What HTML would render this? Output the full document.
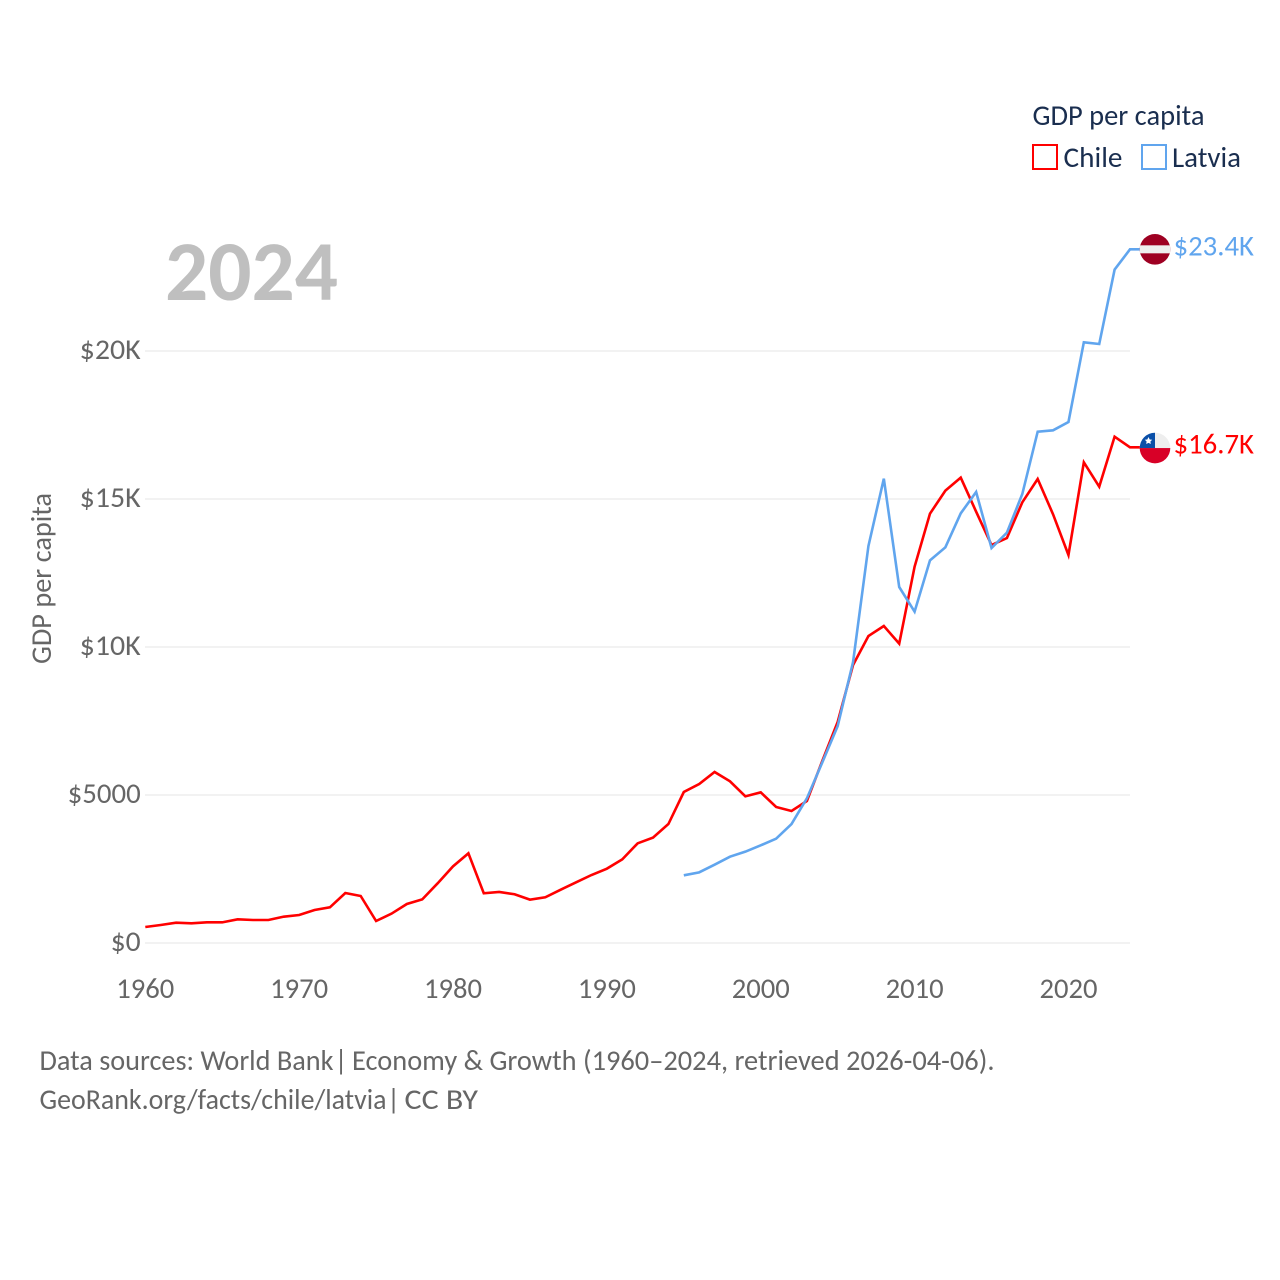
<!DOCTYPE html>
<html lang="en">
<head>
<meta charset="utf-8">
<title>GDP per capita: Chile vs Latvia</title>
<style>
html,body{margin:0;padding:0;background:#fff;width:1280px;height:1280px;overflow:hidden}
svg{display:block}
text{font-family:"Carlito","Liberation Sans",sans-serif}
</style>
</head>
<body>
<svg id="chart" xmlns="http://www.w3.org/2000/svg" width="1280" height="1280" viewBox="0 0 1280 1280">
  <defs>
    <clipPath id="flag-clip"><circle cx="0" cy="0" r="15.3"/></clipPath>
  </defs>
  <rect x="0" y="0" width="1280" height="1280" fill="#fff"/>
  <g id="grid"></g>
  <g id="yticks"></g>
  <g id="xticks"></g>
  <text x="165" y="300" font-size="85" font-weight="700" fill="#bfbfbf" textLength="173" lengthAdjust="spacingAndGlyphs">2024</text>
  <text transform="translate(51,664) rotate(-90)" font-size="28.5" fill="#666" textLength="171" lengthAdjust="spacingAndGlyphs">GDP per capita</text>
  <g id="series"></g>

  <g id="flag-latvia">
    <g clip-path="url(#flag-clip)">
      <rect x="-16" y="-16" width="32" height="32" fill="#9e0022"/>
      <rect x="-16" y="-4" width="32" height="8" fill="#eeeeee"/>
    </g>
  </g>
  <g id="flag-chile">
    <g clip-path="url(#flag-clip)">
      <rect x="-16" y="-16" width="32" height="16" fill="#eeeeee"/>
      <rect x="-16" y="-16" width="16" height="16" fill="#0a4fa8"/>
      <rect x="-16" y="0" width="32" height="16" fill="#d80027"/>
      <polygon points="-6.5,-11 -5.3,-8.6 -2.8,-8.3 -4.6,-6.5 -4.2,-4 -6.5,-5.2 -8.8,-4 -8.4,-6.5 -10.2,-8.3 -7.7,-8.6" fill="#fff"/>
    </g>
  </g>
  <text id="label-latvia" x="1173.5" font-size="28.5" fill="#60a5ee" textLength="80.5" lengthAdjust="spacingAndGlyphs">$23.4K</text>
  <text id="label-chile" x="1173.5" font-size="28.5" fill="#ff0000" textLength="80.5" lengthAdjust="spacingAndGlyphs">$16.7K</text>

  <g>
    <text x="1032.5" y="125.2" font-size="28.5" fill="#1a2e4f" textLength="172" lengthAdjust="spacingAndGlyphs">GDP per capita</text>
    <g>
      <rect x="1033" y="145" width="24" height="24" fill="none" stroke="#ff0000" stroke-width="2"/>
      <text x="1063.5" y="167.2" font-size="28.5" fill="#1a2e4f" textLength="59" lengthAdjust="spacingAndGlyphs">Chile</text>
    </g>
    <g>
      <rect x="1142" y="145" width="24" height="24" fill="none" stroke="#60a5ee" stroke-width="2"/>
      <text x="1172" y="167.2" font-size="28.5" fill="#1a2e4f" textLength="69" lengthAdjust="spacingAndGlyphs">Latvia</text>
    </g>
  </g>

  <text y="1070" font-size="28.5" fill="#666"><tspan x="39.5" textLength="294" lengthAdjust="spacingAndGlyphs">Data sources: World Bank</tspan> <tspan x="334.5">|</tspan> <tspan x="352" textLength="642.5" lengthAdjust="spacingAndGlyphs">Economy &amp; Growth (1960–2024, retrieved 2026-04-06).</tspan></text>
  <a><text y="1109" font-size="28.5" fill="#666"><tspan x="39.5" textLength="347" lengthAdjust="spacingAndGlyphs">GeoRank.org/facts/chile/latvia</tspan> <tspan x="387">|</tspan> <tspan x="404.5" textLength="73.5" lengthAdjust="spacingAndGlyphs">CC BY</tspan></text></a>
</svg>
<script>
const years = [1960,1961,1962,1963,1964,1965,1966,1967,1968,1969,1970,1971,1972,1973,1974,1975,1976,1977,1978,1979,1980,1981,1982,1983,1984,1985,1986,1987,1988,1989,1990,1991,1992,1993,1994,1995,1996,1997,1998,1999,2000,2001,2002,2003,2004,2005,2006,2007,2008,2009,2010,2011,2012,2013,2014,2015,2016,2017,2018,2019,2020,2021,2022,2023,2024];
const chile = [540,608,687,664,698,698,800,777,777,890,946,1115,1205,1689,1588,743,991,1318,1475,2016,2590,3029,1680,1725,1647,1466,1544,1802,2050,2297,2511,2826,3367,3559,4020,5101,5372,5777,5462,4955,5090,4595,4459,4797,6150,7466,9392,10372,10710,10113,12714,14505,15282,15721,14572,13446,13682,14887,15676,14482,13108,16239,15417,17106,16745];
const latvia = [null,null,null,null,null,null,null,null,null,null,null,null,null,null,null,null,null,null,null,null,null,null,null,null,null,null,null,null,null,null,null,null,null,null,null,2286,2387,2646,2917,3086,3300,3525,4020,4887,6100,7330,9490,13412,15687,12027,11194,12928,13367,14516,15236,13345,13863,15169,17275,17320,17601,20294,20236,22750,23435];
const yTickValues = [0,5000,10000,15000,20000];
const yTickLabels = ["$0","$5000","$10K","$15K","$20K"];
const yTickWidths = [29,72,60,60,60];
const xTickValues = [1960,1970,1980,1990,2000,2010,2020];
const xTickLabels = ["1960","1970","1980","1990","2000","2010","2020"];

const NS = "http://www.w3.org/2000/svg";
const xScale = function (yr) { return 145.3 + (yr - 1960) * (1130 - 145.3) / 64; };
const yScale = function (v) { return 943 - v * 0.0296; };

const gridGroup = document.getElementById("grid");
const yGroup = document.getElementById("yticks");
const xGroup = document.getElementById("xticks");
const seriesGroup = document.getElementById("series");

yTickValues.forEach(function (v, i) {
  const line = document.createElementNS(NS, "line");
  line.setAttribute("x1", 145);
  line.setAttribute("x2", 1130);
  line.setAttribute("y1", yScale(v));
  line.setAttribute("y2", yScale(v));
  line.setAttribute("stroke", "#eeeeee");
  line.setAttribute("stroke-width", "1.6");
  
  
  gridGroup.appendChild(line);

  const t = document.createElementNS(NS, "text");
  t.setAttribute("x", 140.7);
  t.setAttribute("y", yScale(v) + 8);
  t.setAttribute("text-anchor", "end");
  t.setAttribute("font-size", "28.5");
  t.setAttribute("fill", "#666");
  t.setAttribute("textLength", yTickWidths[i] + 1);
  t.setAttribute("lengthAdjust", "spacingAndGlyphs");
  
  
  t.textContent = yTickLabels[i];
  yGroup.appendChild(t);
});

xTickValues.forEach(function (yr, i) {
  const t = document.createElementNS(NS, "text");
  t.setAttribute("x", xScale(yr));
  t.setAttribute("y", 998);
  t.setAttribute("text-anchor", "middle");
  t.setAttribute("font-size", "28.5");
  t.setAttribute("fill", "#666");
  t.setAttribute("textLength", 58);
  t.setAttribute("lengthAdjust", "spacingAndGlyphs");
  
  
  t.textContent = xTickLabels[i];
  xGroup.appendChild(t);
});

function linePoints(values) {
  const pts = [];
  values.forEach(function (v, i) {
    if (v !== null) pts.push(xScale(years[i]).toFixed(2) + "," + yScale(v).toFixed(2));
  });
  const last = values[values.length - 1];
  pts.push((xScale(years[years.length - 1]) + 10).toFixed(2) + "," + yScale(last).toFixed(2));
  return pts.join(" ");
}

const chileLine = document.createElementNS(NS, "polyline");
chileLine.setAttribute("points", linePoints(chile));
chileLine.setAttribute("fill", "none");
chileLine.setAttribute("stroke", "#ff0000");
chileLine.setAttribute("stroke-width", "2.6");
chileLine.setAttribute("stroke-linejoin", "miter");


seriesGroup.appendChild(chileLine);

const latviaLine = document.createElementNS(NS, "polyline");
latviaLine.setAttribute("points", linePoints(latvia));
latviaLine.setAttribute("fill", "none");
latviaLine.setAttribute("stroke", "#60a5ee");
latviaLine.setAttribute("stroke-width", "2.6");
latviaLine.setAttribute("stroke-linejoin", "miter");


seriesGroup.appendChild(latviaLine);

const chileEnd = yScale(chile[chile.length - 1]);
const latviaEnd = yScale(latvia[latvia.length - 1]);
document.getElementById("flag-chile").setAttribute("transform", "translate(1155," + (chileEnd + 0.7) + ")");
document.getElementById("flag-latvia").setAttribute("transform", "translate(1155," + latviaEnd + ")");
document.getElementById("label-chile").setAttribute("y", chileEnd + 6);
document.getElementById("label-latvia").setAttribute("y", latviaEnd + 6);
</script>
</body>
</html>
